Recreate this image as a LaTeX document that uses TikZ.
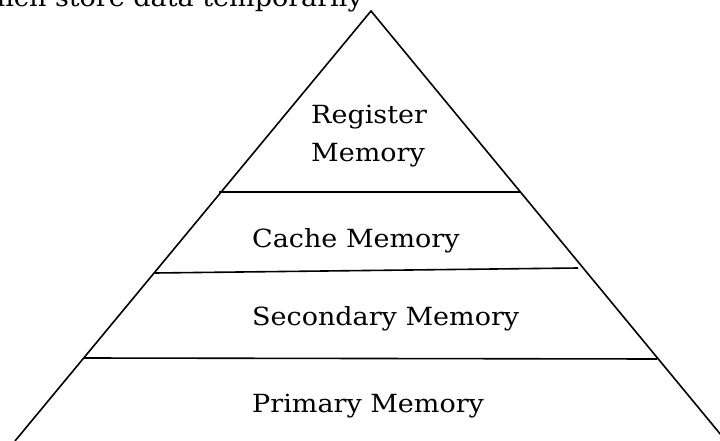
\documentclass[tikz,border=0pt]{standalone}
\usepackage{fontspec}
\setmainfont[FakeStretch=1.08]{DejaVu Serif}
\begin{document}
\begin{tikzpicture}[x=1pt,y=-1pt,
  edge/.style={line width=1.6pt,black},
  label/.style={font=\fontsize{25}{30}\selectfont,anchor=base west,inner sep=0pt}]
\useasboundingbox (0,0) rectangle (720,441);
\clip (0,0) rectangle (720,441);
% caption line of the surrounding text
\node[label,anchor=base east] (cap) at (363,7) {which store data temporarily};
% pyramid outline
\coordinate (apex) at (371,11);
\coordinate (bl) at (15,441);
\coordinate (br) at (726,441);
\draw[edge] (bl) -- (apex) -- (br);
% level separators
\coordinate (s1l) at (219,192); \coordinate (s1r) at (520,192);
\coordinate (s2l) at (155,273); \coordinate (s2r) at (578,268);
\coordinate (s3l) at (84,358);  \coordinate (s3r) at (657,359);
\draw[edge] (s1l) -- (s1r);
\draw[edge] (s2l) -- (s2r);
\draw[edge] (s3l) -- (s3r);
% level labels
\node[label] (reg) at (311,124) {Register};
\node[label] (regm) at (311,161) {Memory};
\node[label] (cache) at (252,247) {Cache Memory};
\node[label] (sec) at (252,325) {Secondary Memory};
\node[label] (prim) at (252,412) {Primary Memory};
\end{tikzpicture}
\end{document}
